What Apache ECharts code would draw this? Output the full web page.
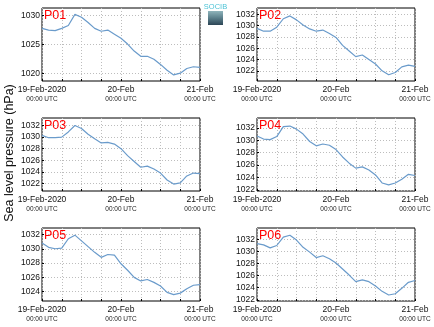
<!DOCTYPE html>
<html>
<head>
<meta charset="utf-8">
<script src="https://cdn.jsdelivr.net/npm/echarts@6/dist/echarts.min.js"></script>
<style>
html,body{margin:0;padding:0;background:#fff;}
#c{width:434px;height:327px;}
</style>
</head>
<body>
<div id="c"></div>
<script>
// hours since 19-Feb-2020 00:00 UTC
const hours = [0,2,4,6,8,10,12,14,16,18,20,22,24,26,28,30,32,34,36,38,40,42,44,46,48];
const panelNames = ['P01','P02','P03','P04','P05','P06'];
const p01 = [1027.8,1027.5,1027.4,1027.8,1028.3,1030.2,1029.7,1028.8,1027.8,1027.3,1027.5,1026.8,1026.1,1025.1,1023.9,1023.0,1023.0,1022.5,1021.6,1020.6,1019.8,1020.1,1020.9,1021.2,1021.1];
const p02 = [1029.5,1029.0,1029.0,1029.7,1031.2,1031.7,1031.0,1030.1,1029.4,1029.0,1029.2,1028.6,1027.9,1026.5,1025.5,1024.5,1024.8,1024.0,1023.2,1022.0,1021.3,1021.7,1022.7,1023.0,1022.8];
const p03 = [1030.3,1029.9,1029.9,1030.0,1030.9,1032.0,1031.5,1030.5,1029.7,1029.0,1029.1,1028.8,1028.0,1026.8,1025.8,1024.8,1025.0,1024.5,1023.8,1022.6,1021.9,1022.1,1023.3,1023.8,1023.7];
const p04 = [1030.7,1030.2,1030.1,1030.6,1032.2,1032.3,1031.8,1031.0,1029.8,1029.1,1029.4,1029.2,1028.5,1027.3,1026.3,1025.5,1025.7,1025.2,1024.4,1023.1,1022.8,1023.1,1023.7,1024.5,1024.3];
const p05 = [1030.8,1030.2,1030.0,1030.1,1031.4,1031.9,1031.1,1030.3,1029.5,1028.8,1029.2,1029.1,1027.9,1027.0,1026.0,1025.5,1025.7,1025.3,1024.8,1023.9,1023.6,1023.8,1024.4,1024.9,1025.0];
const p06 = [1031.3,1031.1,1030.6,1031.0,1032.4,1032.7,1031.9,1030.7,1029.9,1029.0,1029.3,1028.8,1028.1,1027.1,1026.1,1025.0,1025.3,1025.0,1024.3,1023.4,1022.8,1023.0,1023.9,1024.9,1025.2];
const seriesValues = [p01,p02,p03,p04,p05,p06];
const yMin = [1018.75,1020.2,1020.7,1021.8,1022.7,1021.8];
const yMax = [1031.3,1033.1,1033.3,1033.6,1032.9,1033.9];
const yTicks = [
  [1020,1025,1030],
  [1022,1024,1026,1028,1030,1032],
  [1022,1024,1026,1028,1030,1032],
  [1022,1024,1026,1028,1030,1032],
  [1024,1026,1028,1030,1032],
  [1022,1024,1026,1028,1030,1032]
];
const xDateLabels = {0:'19-Feb-2020', 24:'20-Feb', 48:'21-Feb'};
const xTimeLabel = '00:00 UTC';
const yTitle = 'Sea level pressure (hPa)';

const FONT = '"Liberation Sans", Arial, sans-serif';
const lefts = [42, 257];
const tops = [8, 118, 228];
const W = 158, H = 73;

const grids = [], xAxes = [], yAxes = [], series = [], graphics = [];
for (let i = 0; i < 6; i++) {
  const left = lefts[i % 2], top = tops[Math.floor(i / 2)];
  grids.push({left: left, top: top, width: W, height: H, show: true, borderColor: '#000', borderWidth: 1, backgroundColor: 'transparent', containLabel: false});
  xAxes.push({
    type: 'value', gridIndex: i, min: 0, max: 48, interval: 6,
    axisLine: {show: false},
    axisTick: {show: true, inside: true, length: 2, lineStyle: {color: '#000'}},
    splitLine: {show: true, lineStyle: {color: '#bdbdbd', type: [1, 2], width: 1}},
    axisLabel: {
      margin: 4,
      formatter: function (v) {
        if (xDateLabels[v] === undefined) return '';
        return '{a|' + xDateLabels[v] + '}\n{b|' + xTimeLabel + '}';
      },
      rich: {
        a: {fontSize: 8.5, fontFamily: FONT, color: '#111', lineHeight: 10},
        b: {fontSize: 6.5, fontFamily: FONT, color: '#222', lineHeight: 9}
      }
    }
  });
  yAxes.push({
    type: 'value', gridIndex: i, min: yMin[i], max: yMax[i],
    axisLine: {show: false},
    axisTick: {show: true, inside: true, length: 2, customValues: yTicks[i], lineStyle: {color: '#000'}},
    splitLine: {show: true, customValues: yTicks[i], lineStyle: {color: '#bdbdbd', type: [1, 2], width: 1}},
    axisLabel: {customValues: yTicks[i], margin: 2, fontSize: 8.5, fontFamily: FONT, color: '#111',
      formatter: function (v) { return String(v); }}
  });
  series.push({
    type: 'line', xAxisIndex: i, yAxisIndex: i,
    data: hours.map((h, k) => [h, seriesValues[i][k]]),
    showSymbol: false, symbol: 'none',
    lineStyle: {color: '#6a9bcb', width: 1.2},
    animation: false
  });
  graphics.push({
    type: 'text', left: left + 2, top: top + 1, z: 100,
    style: {text: panelNames[i], fill: '#ff0000', font: '12.5px ' + FONT}
  });
}
graphics.push({
  type: 'text', x: 10, y: 153, rotation: Math.PI / 2,
  style: {text: yTitle, fill: '#111', font: '12.5px ' + FONT, align: 'center', verticalAlign: 'middle'}
});
// logo
graphics.push({
  type: 'text', x: 215.5, y: 7,
  style: {text: 'SOCIB', fill: '#4cc3d6', font: '7.5px ' + FONT, align: 'center', verticalAlign: 'middle'}
});
graphics.push({
  type: 'rect', shape: {x: 208, y: 11, width: 15, height: 14},
  style: {fill: new echarts.graphic.LinearGradient(0, 0, 0, 1, [{offset: 0, color: '#8fb4bb'}, {offset: 0.5, color: '#5b7f8b'}, {offset: 1, color: '#2c4555'}])}
});

const chart = echarts.init(document.getElementById('c'), null, {renderer: 'canvas'});
chart.setOption({
  animation: false,
  backgroundColor: '#fff',
  grid: grids, xAxis: xAxes, yAxis: yAxes, series: series,
  graphic: graphics
});
</script>
</body>
</html>
